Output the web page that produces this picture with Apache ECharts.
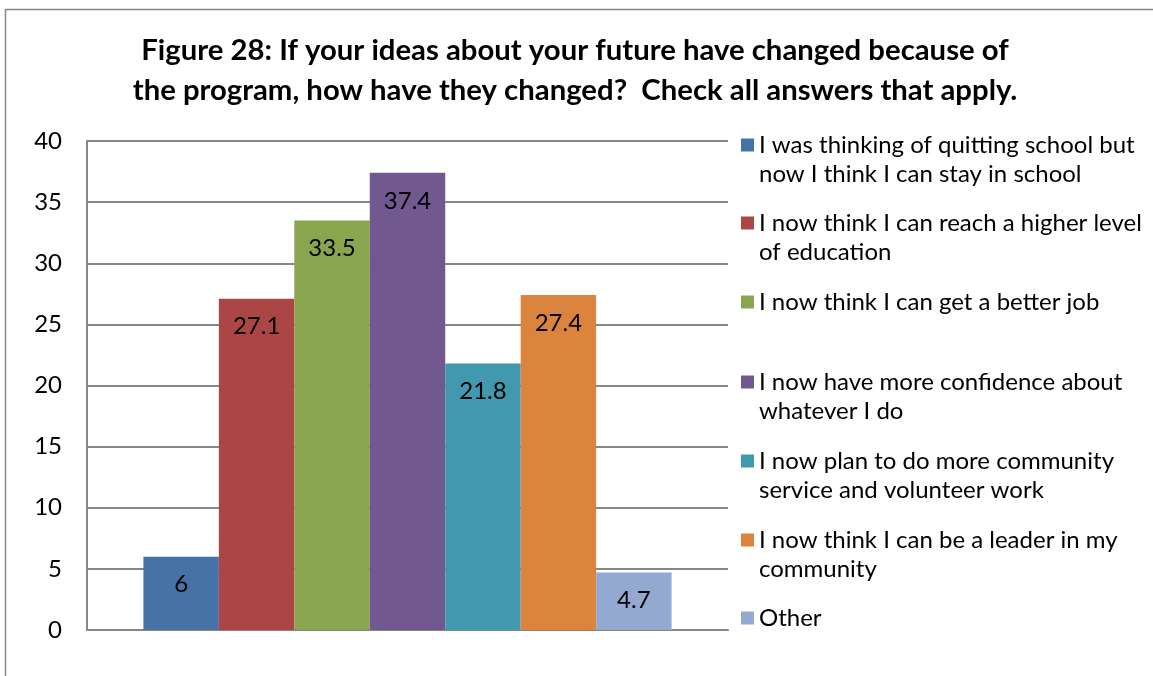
<!DOCTYPE html>
<html>
<head>
<meta charset="utf-8">
<script src="https://cdn.jsdelivr.net/npm/echarts@6/dist/echarts.min.js"></script>
<style>html,body{margin:0;padding:0;background:#fff;}#c{width:1153px;height:676px;}</style>
</head>
<body>
<div id="c"></div>
<script>
var titleText = 'Figure 28: If your ideas about your future have changed because of\nthe program, how have they changed?  Check all answers that apply.';
var categories = [''];
var seriesNames = [
  'I was thinking of quitting school but now I think I can stay in school',
  'I now think I can reach a higher level of education',
  'I now think I can get a better job',
  'I now have more confidence about whatever I do',
  'I now plan to do more community service and volunteer work',
  'I now think I can be a leader in my community',
  'Other'
];
var legendLines = [
  'I was thinking of quitting school but\nnow I think I can stay in school',
  'I now think I can reach a higher level\nof education',
  'I now think I can get a better job',
  'I now have more confidence about\nwhatever I do',
  'I now plan to do more community\nservice and volunteer work',
  'I now think I can be a leader in my\ncommunity',
  'Other'
];
var values = [6, 27.1, 33.5, 37.4, 21.8, 27.4, 4.7];
var colors = ['#4572A7', '#AA4643', '#89A54E', '#71588F', '#4198AF', '#DB843D', '#93A9CF'];
var yMin = 0, yMax = 40, yStep = 5;

var FONT = 'Lato';
var legendFirstLineCenters = [145, 223, 302, 382, 461, 540, 618];
var LH = 29;

var series = seriesNames.map(function (n, i) {
  return {
    name: n,
    type: 'bar',
    data: [values[i]],
    barGap: '0%',
    barCategoryGap: '17.6%',
    itemStyle: { color: colors[i] },
    label: {
      show: true, position: 'insideTop', distance: 16,
      color: '#000', fontFamily: FONT, fontSize: 24
    }
  };
});

var legends = seriesNames.map(function (n, i) {
  var lines = legendLines[i].split('\n').length;
  var multi = lines > 1;
  var txt = multi ? ' \n' + legendLines[i] : legendLines[i];
  var blockH = multi ? 3 * LH : LH;
  return {
    data: [n],
    orient: 'vertical',
    left: 741,
    top: legendFirstLineCenters[i] - blockH / 2,
    padding: 0,
    itemWidth: 13, itemHeight: 13,
    itemGap: 0,
    icon: 'rect',
    selectedMode: false,
    formatter: function () { return txt; },
    textStyle: {
      fontFamily: FONT, fontSize: 24, color: '#000', lineHeight: LH
    }
  };
});

var chart = echarts.init(document.getElementById('c'), null, { renderer: 'canvas' });
chart.setOption({
  animation: false,
  backgroundColor: '#fff',
  color: colors,
  title: {
    text: titleText,
    left: 575, top: 31, textAlign: 'center', padding: 0,
    textStyle: { fontFamily: FONT, fontWeight: 'bold', fontSize: 29.3, lineHeight: 40, color: '#000' }
  },
  graphic: [{
    type: 'rect', shape: { x: 5.5, y: 9.5, width: 1200, height: 700 },
    style: { fill: null, stroke: '#868686', lineWidth: 1.5 }, silent: true, z: -1
  }],
  legend: legends,
  grid: { left: 87, right: 425, top: 141, bottom: 46, containLabel: false },
  xAxis: {
    type: 'category', data: categories,
    axisLine: { show: true, lineStyle: { color: '#868686', width: 2 } },
    axisTick: { show: false }, axisLabel: { show: false }
  },
  yAxis: {
    type: 'value', min: yMin, max: yMax, interval: yStep,
    axisLine: { show: true, lineStyle: { color: '#868686', width: 2 } },
    axisTick: { show: false },
    splitLine: { show: true, lineStyle: { color: '#868686', width: 2 } },
    axisLabel: { fontFamily: FONT, fontSize: 24, color: '#000', margin: 25 }
  },
  series: series
});
</script>
</body>
</html>
